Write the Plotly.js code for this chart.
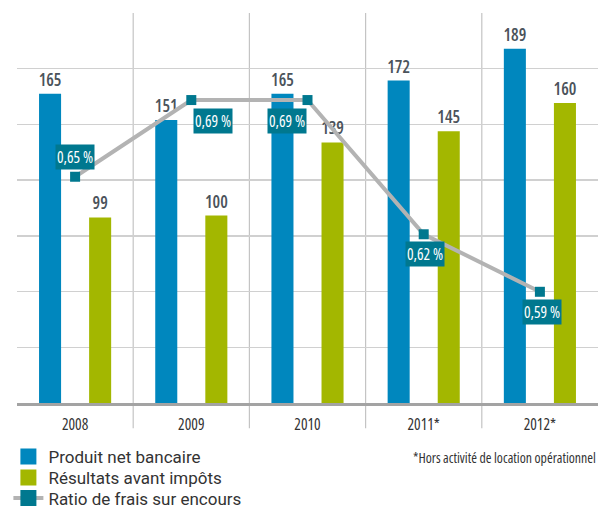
<!DOCTYPE html>
<html>
<head>
<meta charset="utf-8">
<script src="https://cdn.plot.ly/plotly-3.0.1.min.js"></script>
<style>
html,body{margin:0;padding:0;background:#fff;}
#chart{width:598px;height:507px;}
text.bartext, g.xtick text, text.annotation-text { font-stretch: condensed !important; }
</style>
</head>
<body>
<div id="chart"></div>
<script>
const years = ['2008', '2009', '2010', '2011*', '2012*'];
const produitNetBancaire = [165, 151, 165, 172, 189];
const resultatsAvantImpots = [99, 100, 139, 145, 160];
const ratioFrais = [0.65, 0.69, 0.69, 0.62, 0.59];
const seriesNames = ['Produit net bancaire', 'Résultats avant impôts', 'Ratio de frais sur encours'];
const footnote = '*Hors activité de location opérationnel';

// style only: pixel shifts of the ratio label boxes
const labelShift = [[0, 20], [22, -21], [-21, -21], [1, -20], [2, -20]];

const cond = 'Open Sans, sans-serif';
const yTop = 208;
const gridVals = Array.from({length: 8}, (_, i) => i * yTop / 7);
const catIdx = years.map((_, i) => i);

const traces = [
  {
    type: 'bar', name: seriesNames[0], x: years, y: produitNetBancaire, legend: 'legend',
    text: produitNetBancaire.map(String), textposition: 'outside', cliponaxis: false, constraintext: 'none',
    textfont: {family: cond, size: 17, color: '#4b535b', weight: 600},
    marker: {color: '#0087be'}, hoverinfo: 'none'
  },
  {
    type: 'bar', name: seriesNames[1], x: years, y: resultatsAvantImpots, legend: 'legend2',
    text: resultatsAvantImpots.map(String), textposition: 'outside', cliponaxis: false, constraintext: 'none',
    textfont: {family: cond, size: 17, color: '#4b535b', weight: 600},
    marker: {color: '#a3b700'}, hoverinfo: 'none'
  },
  {
    type: 'scatter', mode: 'lines+markers', name: seriesNames[2], x: years, y: ratioFrais,
    yaxis: 'y2', legend: 'legend3', line: {color: '#b3b3b3', width: 4},
    marker: {symbol: 'square', size: 10, color: '#00788f'}, hoverinfo: 'none', cliponaxis: false
  }
];

const annotations = ratioFrais.map((v, i) => ({
  x: catIdx[i], y: v, xref: 'x', yref: 'y2',
  text: v.toFixed(2).replace('.', ',') + ' %',
  showarrow: false, xshift: labelShift[i][0], yshift: labelShift[i][1],
  bgcolor: '#00788f', borderpad: 1,
  font: {family: cond, size: 15.5, color: '#ffffff', weight: 500}
}));
annotations.push({
  x: 1, y: -0.141, xref: 'paper', yref: 'paper', xanchor: 'right', yanchor: 'middle',
  text: footnote, showarrow: false,
  font: {family: cond, size: 13.8, color: '#333333'}
});

const shapes = catIdx.slice(0, -1).map(i => ({
  type: 'line', xref: 'x', yref: 'paper', x0: i + 0.5, x1: i + 0.5, y0: -0.065, y1: 1,
  line: {color: '#c4c4c4', width: 1.2}, layer: 'below'
}));

const legendBase = {
  x: -0.0148, xanchor: 'left', yanchor: 'middle',
  font: {family: 'Roboto, sans-serif', size: 17, color: '#333333'},
  bgcolor: 'rgba(0,0,0,0)'
};

const layout = {
  width: 598, height: 507,
  margin: {l: 17, r: 0, t: 13, b: 104, autoexpand: false},
  paper_bgcolor: '#ffffff', plot_bgcolor: '#ffffff',
  barmode: 'group', bargap: 0.138, bargroupgap: 0.56,
  showlegend: true,
  legend: Object.assign({}, legendBase, {y: -0.1385}),
  legend2: Object.assign({}, legendBase, {y: -0.1923}),
  legend3: Object.assign({}, legendBase, {y: -0.2447}),
  xaxis: {
    type: 'category', range: [-0.5, years.length - 0.5], showgrid: false, zeroline: false,
    showline: true, linecolor: '#a3a3a3', linewidth: 3,
    ticks: '', ticklabelstandoff: 5,
    tickfont: {family: cond, size: 15.5, color: '#333333'}, fixedrange: true
  },
  yaxis: {
    range: [0, yTop], tickmode: 'array', tickvals: gridVals, showticklabels: false,
    showgrid: true, gridcolor: '#d0d0d0', gridwidth: 1.5, zeroline: false, fixedrange: true
  },
  yaxis2: {
    range: [0.532, 0.7354], overlaying: 'y', side: 'right',
    showgrid: false, showticklabels: false, zeroline: false, fixedrange: true
  },
  annotations: annotations,
  shapes: shapes
};

const bigSquare = 'M8,8H-8V-8H8Z';
function enlargeLegendSymbols() {
  document.querySelectorAll('#chart .legendpoints path').forEach(p => {
    p.setAttribute('d', bigSquare);
    p.style.d = 'path("' + bigSquare + '")';
  });
}
Plotly.newPlot('chart', traces, layout, {displayModeBar: false, staticPlot: true}).then(() => {
  enlargeLegendSymbols();
  setTimeout(enlargeLegendSymbols, 50);
});
</script>
</body>
</html>
